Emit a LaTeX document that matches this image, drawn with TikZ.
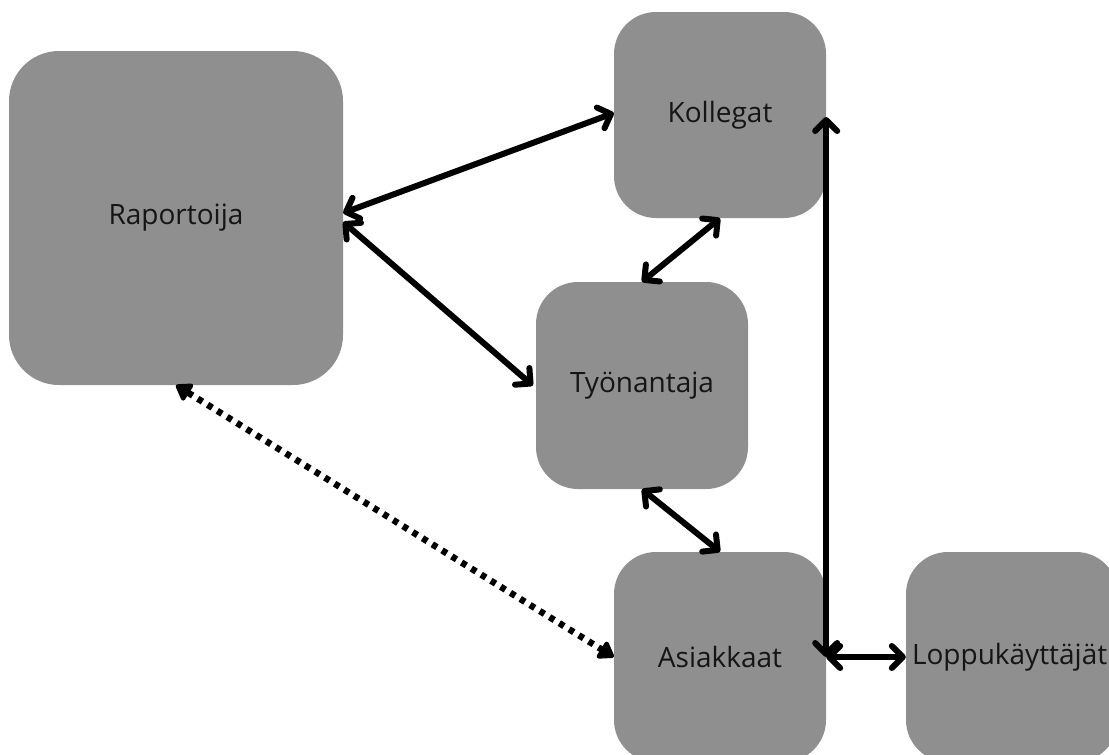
\documentclass[tikz,border=0pt]{standalone}
\usepackage{fontspec}
\setmainfont{Open Sans}
\usetikzlibrary{arrows.meta}
\definecolor{boxgrey}{HTML}{8F8F8F}
\definecolor{txt}{HTML}{151515}
\tikzset{
  card/.style={fill=boxgrey, draw=none, rounded corners=#1, inner sep=0pt, text=txt, font=\fontsize{28}{32}\selectfont},
  card/.default=42pt,
  barb/.tip={Straight Barb[length=11pt,width=22pt,line width=6pt,line cap=round,line join=round]},
  link/.style={line width=6pt, barb-barb},
  dotlink/.style={line width=6.5pt, dash pattern=on 5.5pt off 6pt, {Triangle[length=17pt,width=22pt,round]}-{Triangle[length=17pt,width=22pt,round]}}
}
\begin{document}
\begin{tikzpicture}[x=1pt,y=-1pt]
\useasboundingbox (0,0) rectangle (1109,755);
\node[card=50pt, minimum width=334pt, minimum height=334pt] (rap) at (176,218) {Raportoija};
\node[card, minimum width=212pt, minimum height=206pt] (kol) at (720,115) {Kollegat};
\node[card, minimum width=212pt, minimum height=207pt] (tyo) at (642,385.5) {Työnantaja};
\node[card, minimum width=212pt, minimum height=210pt] (asi) at (720,657) {Asiakkaat};
\node[card, minimum width=212pt, minimum height=210pt] (lop) at (1012,657) {};
\node[anchor=west, inner sep=0pt, text=txt, font=\fontsize{28}{32}\selectfont] (loptxt) at (lop.west) {\hspace{6pt}Loppukäyttäjät};
\draw[link] ([yshift=5pt]rap.east) -- ([yshift=2pt]kol.west);
\draw[link] ([yshift=-4pt]rap.east) -- ([xshift=-3pt]tyo.west);
\draw[link] (kol.south) -- (tyo.north);
\draw[link] (tyo.south) -- (asi.north);
\draw[link] ([yshift=-2pt]kol.east) -- (asi.east);
\draw[link] (asi.east) -- (lop.west);
\draw[dotlink] (rap.south) -- (asi.west);
\end{tikzpicture}
\end{document}
